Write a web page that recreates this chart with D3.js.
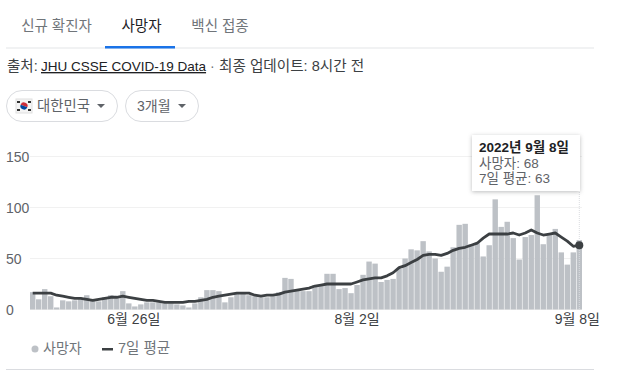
<!DOCTYPE html>
<html>
<head>
<meta charset="utf-8">
<script src="https://cdn.jsdelivr.net/npm/d3@7"></script>
<style>
  html, body { margin: 0; padding: 0; background: #fff; }
  svg { display: block; font-family: Arial, "Liberation Sans", "Noto Sans CJK KR", sans-serif; }
</style>
</head>
<body>
<svg id="chart" width="625" height="373"></svg>
<script>
// 데이터
const deaths = [17,10,20,13,2,9,8,9,10,14,9,8,12,14,11,18,6,3,5,7,7,7,6,6,5,4,2,6,
  12,19,19,18,7,12,16,16,14,13,12,12,13,17,31,30,19,18,18,24,24,35,35,20,21,16,24,34,47,45,27,29,
  30,40,50,59,58,67,57,50,37,42,61,83,84,64,65,52,63,108,81,86,70,49,71,73,112,64,73,79,56,44,56,68];
const average = [16,16,16,16,14,13,12,11,11,10,9,10,11,12,12,13,12,11,10,9,9,8,7,7,7,7,8,8,
  9,10,12,13,14,15,16,16,16,14,13,14,14,15,17,18,19,20,21,23,24,25,25,25,25,25,27,29,30,31,31,33,
  36,41,43,46,49,53,54,54,53,55,58,60,61,63,65,70,74,74,74,74,75,73,75,78,75,73,74,75,71,67,62,63];
const yTicks = [0, 50, 100, 150];
const xTickIndex = [17, 54, 91];
const xTickLabels = ['6월 26일', '8월 2일', '9월 8일'];
const tabs = ['신규 확진자', '사망자', '백신 접종'];

const svg = d3.select('#chart');

const x = d3.scaleBand().domain(d3.range(deaths.length)).range([30, 582]).paddingInner(0.1).paddingOuter(0);
const y = d3.scaleLinear().domain([0, 150]).range([309.5, 156.5]);

// 탭
const tabX = [56.5, 141.5, 220];
svg.selectAll('.tab').data(tabs).join('text')
  .attr('x', (d, i) => tabX[i]).attr('y', 31)
  .attr('text-anchor', 'middle').attr('font-size', 14.5)
  .attr('fill', (d, i) => i === 1 ? '#202124' : '#70757a')
  .text(d => d);
svg.append('rect').attr('x', 6).attr('y', 47.5).attr('width', 588).attr('height', 1).attr('fill', '#e4e6e8');
svg.append('rect').attr('x', 105).attr('y', 46).attr('width', 70).attr('height', 2.5).attr('fill', '#1a73e8');

// 출처
svg.append('text').attr('x', 7).attr('y', 71).attr('font-size', 14.5).attr('fill', '#3c4043').text('출처:');
svg.append('text').attr('x', 41).attr('y', 71).attr('font-size', 13.5).attr('text-decoration', 'underline').attr('fill', '#202124').text('JHU CSSE COVID-19 Data');
svg.append('text').attr('x', 210).attr('y', 71).attr('font-size', 14).attr('fill', '#70757a').text('·');
svg.append('text').attr('x', 219).attr('y', 71).attr('font-size', 14.6).attr('fill', '#3c4043').text('최종 업데이트: 8시간 전');

// 필터 버튼
svg.append('rect').attr('x', 6.5).attr('y', 90.5).attr('width', 111).attr('height', 31).attr('rx', 15.5)
  .attr('fill', '#fff').attr('stroke', '#dadce0');
svg.append('rect').attr('x', 125.5).attr('y', 90.5).attr('width', 73).attr('height', 31).attr('rx', 15.5)
  .attr('fill', '#fff').attr('stroke', '#dadce0');
// 국기
svg.append('rect').attr('x', 16).attr('y', 99).attr('width', 16).attr('height', 14).attr('fill', '#f4f4f4').attr('stroke', '#e0e0e0');
svg.append('path').attr('transform', 'translate(24,106)').attr('d', d3.arc()({innerRadius: 0, outerRadius: 3.6, startAngle: -1.2, endAngle: 1.94})).attr('fill', '#cd2e3a');
svg.append('path').attr('transform', 'translate(24,106)').attr('d', d3.arc()({innerRadius: 0, outerRadius: 3.6, startAngle: 1.94, endAngle: 5.08})).attr('fill', '#0047a0');
[[18.5, 102], [29.5, 102], [18.5, 110], [29.5, 110]].forEach(p => {
  svg.append('rect').attr('x', p[0] - 1.5).attr('y', p[1] - 1).attr('width', 3).attr('height', 2).attr('fill', '#333');
});
svg.append('text').attr('x', 37).attr('y', 111).attr('font-size', 14.4).attr('fill', '#5f6368').text('대한민국');
svg.append('text').attr('x', 137).attr('y', 111).attr('font-size', 14).attr('fill', '#5f6368').text('3개월');
[[101, 106], [182, 106]].forEach(p => {
  svg.append('path').attr('d', d3.line()([[p[0] - 4, p[1] - 2], [p[0] + 4, p[1] - 2], [p[0], p[1] + 2]]) + 'Z').attr('fill', '#5f6368');
});

// 그리드
svg.append('g').selectAll('line').data(yTicks).join('line')
  .attr('x1', 30).attr('x2', 582)
  .attr('y1', d => y(d)).attr('y2', d => y(d))
  .attr('stroke', '#f1f1f1');

// y축 라벨
svg.append('g').selectAll('text').data(yTicks).join('text')
  .attr('x', 6).attr('y', d => y(d) + 5.5)
  .attr('font-size', 14).attr('fill', '#5f6368')
  .text(d => d);

// 막대
svg.append('g').selectAll('rect').data(deaths).join('rect')
  .attr('x', (d, i) => x(i))
  .attr('y', d => y(d))
  .attr('width', x.bandwidth())
  .attr('height', d => y(0) - y(d))
  .attr('fill', '#bdc1c6');

// 7일 평균 선
const line = d3.line()
  .x((d, i) => x(i) + x.bandwidth() / 2)
  .y(d => y(d));
svg.append('path').datum(average)
  .attr('d', line)
  .attr('fill', 'none').attr('stroke', '#3c4043').attr('stroke-width', 2.8).attr('stroke-linejoin', 'round');

// 마커 + 세로선
const last = average.length - 1;
const lastX = x(last) + x.bandwidth() / 2;
svg.append('line').attr('x1', lastX).attr('x2', lastX).attr('y1', 190).attr('y2', 309)
  .attr('stroke', '#dadce0').attr('stroke-dasharray', '1,1');
svg.append('circle').attr('cx', lastX).attr('cy', y(average[last])).attr('r', 4).attr('fill', '#3c4043');

// x축 라벨
svg.append('g').selectAll('text').data(xTickIndex).join('text')
  .attr('x', (d, i) => x(d) + x.bandwidth() / 2 - [1, 0, 2][i])
  .attr('y', 323.5).attr('text-anchor', 'middle')
  .attr('font-size', 14).attr('fill', '#3c4043')
  .text((d, i) => xTickLabels[i]);

// 범례
svg.append('circle').attr('cx', 35).attr('cy', 349).attr('r', 3.5).attr('fill', '#bdc1c6');
svg.append('text').attr('x', 43).attr('y', 353).attr('font-size', 14).attr('fill', '#70757a').text('사망자');
svg.append('rect').attr('x', 102).attr('y', 348).attr('width', 11).attr('height', 2.5).attr('fill', '#3c4043');
svg.append('text').attr('x', 118).attr('y', 353).attr('font-size', 14.5).attr('fill', '#70757a').text('7일 평균');
svg.append('rect').attr('x', 6).attr('y', 369).attr('width', 588).attr('height', 1).attr('fill', '#dadce0');

// 툴팁
const tip = svg.append('g');
tip.append('rect').attr('x', 472).attr('y', 135).attr('width', 108).attr('height', 56)
  .attr('fill', '#fff').style('filter', 'drop-shadow(0 1px 2px rgba(60,64,67,.35))');
tip.append('text').attr('x', 479).attr('y', 152).attr('font-size', 13.5).attr('font-weight', 'bold').attr('fill', '#202124').text('2022년 9월 8일');
tip.append('text').attr('x', 479).attr('y', 167.5).attr('font-size', 13.5).attr('fill', '#5f6368').text('사망자: ' + deaths[last]);
tip.append('text').attr('x', 479).attr('y', 183).attr('font-size', 13.5).attr('fill', '#5f6368').text('7일 평균: ' + average[last]);
</script>
</body>
</html>
